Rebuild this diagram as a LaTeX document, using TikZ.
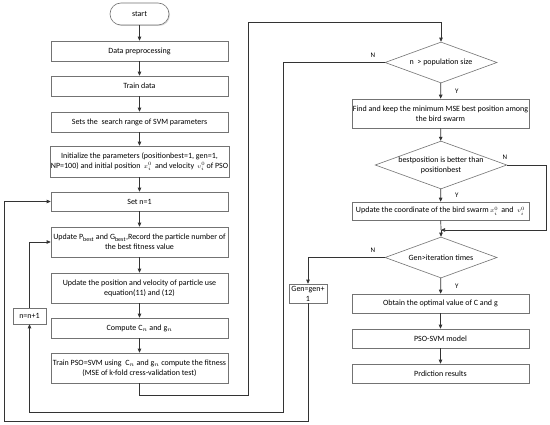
\documentclass[tikz,border=0pt]{standalone}
\usepackage{fontspec}
\setmainfont{Carlito}
\usetikzlibrary{shapes.geometric,shadows,arrows.meta}
\begin{document}
\begin{tikzpicture}[x=1pt,y=-1pt,
  every node/.style={font=\fontsize{8}{10}\selectfont, inner sep=1pt},
  box/.style={draw=black!55, line width=0.6pt, fill=white, rectangle, align=center,
    minimum width=177pt, drop shadow={shadow xshift=1pt, shadow yshift=-1pt, fill=black!25, opacity=0.6}},
  term/.style={draw=black!55, line width=0.6pt, fill=white, rounded corners=11pt,
    minimum width=59pt, minimum height=22pt, drop shadow={shadow xshift=1pt, shadow yshift=-1pt, fill=black!25, opacity=0.6}},
  dia/.style={draw=black!55, line width=0.6pt, fill=white, diamond, aspect=2.75,
    minimum width=112pt, minimum height=41pt, inner sep=0pt, align=center},
  conn/.style={draw=black!80, line width=0.7pt, -{Triangle[length=4pt,width=3.5pt]}},
  lbl/.style={font=\fontsize{7}{8}\selectfont}]
\useasboundingbox (0,0) rectangle (550,425);
\fill[white] (0,0) rectangle (550,425);
% left column
\node[term] (start) at (139.5,14) {start};
\node[box, minimum height=20pt] (pre) at (139.5,51) {Data preprocessing};
\node[box, minimum height=20pt] (train) at (139.5,86) {Train data};
\node[box, minimum height=20pt] (range) at (139.5,122) {Sets the\ \ search range of SVM parameters};
\node[box, minimum height=31pt] (init) at (139.5,161.5) {Initialize the parameters (positionbest=1, gen=1,\\NP=100) and initial position\, $\scriptstyle x_i^0$\, and velocity\, $\scriptstyle v_i^0$\,of PSO};
\node[box, minimum height=19pt] (setn) at (139.5,201.5) {Set n=1};
\node[box, minimum height=30pt] (upd) at (139.5,242) {Update P$_{\mathrm{best}}$ and G$_{\mathrm{best}}$,Record the particle number of\\the best fitness value};
\node[box, minimum height=30pt] (pos) at (139.5,288) {Update the position and velocity of particle use\\equation(11) and (12)};
\node[box, minimum height=20pt] (comp) at (139.5,328) {Compute C$_n$ and g$_n$};
\node[box, minimum height=30pt] (trn) at (139.5,368) {Train PSO=SVM using\ \ C$_n$ and g$_n$ compute the fitness\\(MSE of k-fold cress-validation test)};
\node[box, minimum width=33pt, minimum height=16pt] (nn) at (29.5,316) {n=n+1};
% right column
\node[dia] (d1) at (441,62.5) {n\ \ > population size};
\node[box, minimum height=29pt] (find) at (440.5,113.5) {Find and keep the minimum MSE best position among\\the bird swarm};
\node[dia] (d2) at (441,165) {bestposition is better than\\positionbest};
\node[box, minimum height=18pt] (coord) at (440.5,211) {Update the coordinate of the bird swarm\,$\scriptstyle x_i^0$\, and\ \ $\scriptstyle v_i^0$};
\coordinate (m) at (441,230);
\node[dia] (d3) at (441,257.5) {Gen>iteration times};
\node[box, minimum width=38pt, minimum height=19pt] (gen) at (308,293.5) {Gen=gen+\\1};
\node[box, minimum height=19pt] (opt) at (440.5,303.5) {Obtain the optimal value of C and g};
\node[box, minimum height=19pt] (model) at (440.5,338.5) {PSO-SVM model};
\node[box, minimum height=19pt] (pred) at (440.5,373.5) {Prdiction results};
% connectors left
\draw[conn] (start) -- (pre);
\draw[conn] (pre) -- (train);
\draw[conn] (train) -- (range);
\draw[conn] (range) -- (init);
\draw[conn] (init) -- (setn);
\draw[conn] (setn) -- (upd);
\draw[conn] (upd) -- (pos);
\draw[conn] (pos) -- (comp);
\draw[conn] (comp) -- (trn);
\draw[conn] (trn.south) -- ++(0,12) -| (248,22) -| (d1.north);
% right connectors
\draw[conn] (d1) -- node[lbl, right, pos=0.5, xshift=13pt] {Y} (find);
\draw[conn] (find) -- (d2);
\draw[conn] (d2) -- node[lbl, right, pos=0.5, xshift=13pt] {Y} (coord);
\draw[draw=black!80, line width=0.7pt] (coord) -- (m);
\draw[conn] (d2.east) -- (546,165) |- (m);
\draw[conn] (m) -- (d3);
\draw[conn] (d3) -- node[lbl, right, pos=0.5, xshift=13pt] {Y} (opt);
\draw[conn] (opt) -- (model);
\draw[conn] (model) -- (pred);
\node[lbl] (n2) at (505,157) {N};
% N branches
\draw[conn] (d1.west) -- (283,62.5) |- (29.5,412) -- (nn.south);
\node[lbl] (n1) at (373,55) {N};
\draw[conn] (nn.north) -- (29.5,242) -- (upd.west);
\draw[conn] (d3.west) -| (gen.north);
\node[lbl] (n3) at (373,250) {N};
\draw[conn] (gen.south) -- (308,421) -| (4,201.5) -- (setn.west);
\end{tikzpicture}
\end{document}
